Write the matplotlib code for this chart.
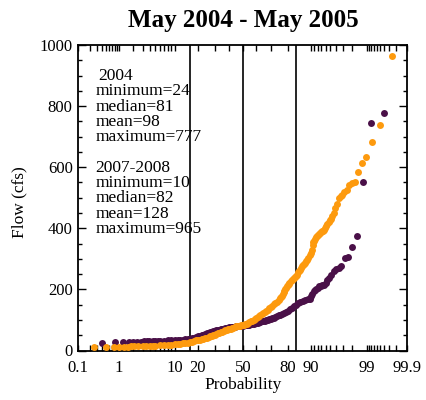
import matplotlib
matplotlib.use("Agg")
import matplotlib.pyplot as plt
import numpy as np
from statistics import NormalDist
from matplotlib.ticker import FixedLocator, FixedFormatter, MultipleLocator

# ---------------- data (probability %, flow cfs) ----------------
prob_2004 = [0.40, 0.80, 1.20, 1.59, 1.99, 2.39, 2.79, 3.19, 3.59, 3.98,
             4.5, 5, 5.5, 6, 7, 8, 9, 10, 11, 12, 13, 14, 15, 16, 17, 18, 19, 20,
             21, 22, 23, 24, 25, 26, 27, 28, 29, 30, 31, 32, 33, 34, 35, 36, 37,
             38, 39, 40, 41, 42, 43, 44, 45, 46, 47, 48, 49, 50, 51, 52, 53, 54,
             55, 56, 57, 58, 59, 60, 61, 62, 63, 64, 65, 66, 67, 68, 69, 70, 71,
             72, 73, 74, 75, 76, 77, 78, 79, 80, 81, 82, 83, 84, 85, 86, 87, 88,
             89, 89.5, 90.0, 90.4, 90.8, 91.2, 91.6, 92.0, 92.4, 92.8, 93.2, 93.6,
             94.0, 94.4, 94.8, 95.2, 95.6, 96.0, 96.4, 96.8, 97.2, 97.6, 98.0,
             98.41, 98.8, 99.2, 99.6]
flow_2004 = [24, 27, 27, 28, 28, 29, 29, 30, 30, 30,
             31, 31, 31, 32, 32, 33, 33, 34, 35, 35, 36, 37, 37, 38, 40, 42, 44, 46,
             48, 50, 52, 54, 56, 58, 60, 62, 63, 64, 66, 67, 68, 70, 71, 72, 73,
             74, 75, 76, 77, 77, 78, 78, 79, 79, 80, 80, 81, 81, 82, 83, 84, 85,
             85, 86, 87, 88, 89, 90, 91, 92, 94, 95, 96, 97, 99, 100, 102, 104, 106,
             108, 110, 113, 115, 117, 119, 122, 126, 130, 135, 140, 145, 150, 154, 158, 162, 165,
             167, 170, 178, 185, 194, 197, 200, 204, 210, 212, 214, 216,
             222, 230, 238, 248, 259, 266, 270, 275, 303, 305, 339,
             374, 553, 744, 777]

prob_0708 = [0.26, 0.51, 0.77, 1.02, 1.28, 1.53, 1.79, 2.05, 2.5, 3, 3.5, 4, 4.5,
             5, 6, 7, 8, 9, 10, 11, 12, 13, 14, 15, 16, 17, 18, 19, 20, 21, 22, 23,
             24, 25, 26, 27, 28, 29, 30, 31, 32, 33, 34, 35, 36, 37, 38, 39, 40,
             41, 42, 43, 44, 45, 46, 47, 48, 49, 50, 51, 52, 53, 54, 55, 56, 57,
             58, 59, 60, 61, 62, 63, 64, 65, 66, 67, 68, 69, 70, 71, 72, 73, 74,
             75, 76, 76.4, 76.8, 77.3, 77.8, 78.2, 78.7, 79.2, 79.6, 80, 80.5,
             80.9, 81.5, 82, 82.6, 83, 83.5, 84, 84.4, 85, 85.5, 85.9, 86.4, 86.8,
             87.2, 87.5, 87.9, 88.3, 88.7, 89.1, 89.5, 89.9, 90.2, 90.5, 90.79,
             91.05, 91.3, 91.56, 91.82, 92.07, 92.33, 92.58, 92.84, 93.1, 93.35,
             93.6, 93.86, 94.1, 94.37, 94.63, 94.88, 95.14, 95.4, 95.65, 95.9,
             96.16, 96.42, 96.68, 96.93, 97.19, 97.44, 97.70, 97.95, 98.21, 98.47,
             98.72, 98.98, 99.23, 99.49, 99.74]
flow_0708 = [10, 12, 12, 13, 13, 13, 14, 14, 14, 15, 15, 15, 16,
             16, 17, 17, 18, 19, 20, 21, 22, 23, 24, 25, 27, 29, 31, 33, 35, 36, 37, 38,
             40, 42, 44, 46, 48, 50, 52, 54, 56, 58, 60, 62, 64, 66, 68, 70, 71,
             72, 73, 75, 77, 79, 80, 81, 81, 82, 82, 84, 86, 88, 90, 92, 95, 98,
             101, 104, 107, 110, 113, 116, 119, 123, 126, 129, 133, 138, 142, 146, 151, 155, 160,
             165, 171, 175, 180, 186, 190, 195, 200, 206, 210, 214, 218,
             222, 227, 231, 235, 238, 241, 245, 248, 256, 260, 265, 271, 276,
             281, 284, 288, 292, 297, 304, 312, 320, 330, 345, 354,
             360, 366, 372, 375, 378, 382, 386, 388, 390, 392,
             394, 400, 408, 414, 420, 427, 432, 440, 450, 465,
             478, 500, 506, 510, 518, 526, 542, 548, 553, 584,
             615, 633, 682, 738, 965]

ref_lines = [15.87, 50, 84.13]
xtick_major = [0.1, 1, 10, 20, 50, 80, 90, 99, 99.9]
xtick_labels = ["0.1", "1", "10", "20", "50", "80", "90", "99", "99.9"]
xtick_minor = [0.2, 0.3, 0.4, 0.5, 0.6, 0.7, 0.8, 0.9, 2, 3, 4, 5, 6, 7, 8, 9,
               30, 40, 60, 70, 91, 92, 93, 94, 95, 96, 97, 98,
               99.1, 99.2, 99.3, 99.4, 99.5, 99.6, 99.7, 99.8]

stats_text = ["2004", "minimum=24", "median=81", "mean=98", "maximum=777", "",
              "2007-2008", "minimum=10", "median=82", "mean=128", "maximum=965"]

# ---------------- probability scale ----------------
_nd = NormalDist()
_ppf = np.vectorize(lambda p: _nd.inv_cdf(min(max(p / 100.0, 1e-9), 1 - 1e-9)))
_cdf = np.vectorize(lambda z: 100.0 * _nd.cdf(z))


def fwd(p):
    return _ppf(np.asarray(p, dtype=float))


def inv(z):
    return _cdf(np.asarray(z, dtype=float))


plt.rcParams['font.family'] = ['Liberation Serif', 'DejaVu Serif']

fig = plt.figure(figsize=(4.26, 4.0), dpi=100)
W, H = 426.0, 400.0
x0, x1, y0, y1 = 78.3, 407.3, 45.0, 350.5
ax = fig.add_axes([x0 / W, 1 - y1 / H, (x1 - x0) / W, (y1 - y0) / H])
ax.set_xscale('function', functions=(fwd, inv))
ax.set_xlim(0.1, 99.9)
ax.set_ylim(0, 1000)

purple = '#4a1048'
orange = '#fd9a0e'

for p in ref_lines:
    ax.axvline(p, color='black', lw=1.2, zorder=1)

ax.plot(prob_2004, flow_2004, 'o', ms=5.0, color=purple, mec='none', zorder=2)
ax.plot(prob_0708, flow_0708, 'o', ms=5.0, color=orange, mec='none', zorder=3)

ax.xaxis.set_major_locator(FixedLocator(xtick_major))
ax.xaxis.set_major_formatter(FixedFormatter(xtick_labels))
ax.xaxis.set_minor_locator(FixedLocator(xtick_minor))
ax.yaxis.set_major_locator(MultipleLocator(200))
ax.yaxis.set_minor_locator(MultipleLocator(50))

ax.tick_params(axis='both', which='both', direction='in', top=True, right=True,
               colors='black', labelsize=12, width=1.0)
ax.tick_params(axis='x', which='both', length=4.5, pad=7)
ax.tick_params(axis='y', which='major', length=6, pad=4)
ax.tick_params(axis='y', which='minor', length=3)
for s in ax.spines.values():
    s.set_linewidth(1.3)

# stats text block
for i, line in enumerate(stats_text):
    if not line:
        continue
    ypx = 76 + i * 15.3
    xpx = 98 if line == "2004" else 95.5
    ax.text((xpx - x0) / (x1 - x0), (y1 - ypx) / (y1 - y0), line,
            transform=ax.transAxes, fontsize=12.5, va='center', ha='left',
            color='black')

fig.text(243.5 / W, 1 - 21 / H, "May 2004 - May 2005", fontsize=18,
         fontweight='bold', ha='center', va='center')
fig.text(243 / W, 1 - 385 / H, "Probability", fontsize=12.5,
         ha='center', va='center')
fig.text(19 / W, 1 - 202 / H, "Flow (cfs)", fontsize=12.5, rotation=90,
         ha='center', va='center')

fig.savefig("out.png", dpi=100)
